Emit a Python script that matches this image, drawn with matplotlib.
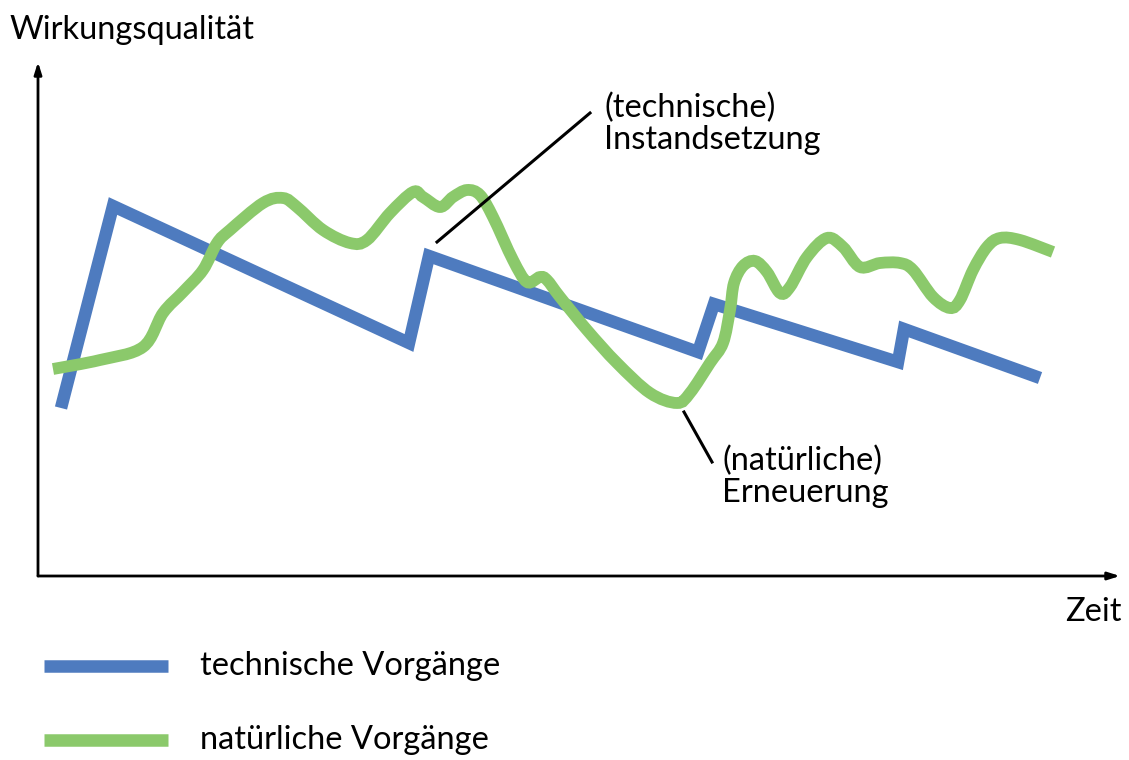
"""
Wirkungsqualität: technische vs. natürliche Vorgänge
"""
import matplotlib
matplotlib.use('Agg')
import matplotlib.pyplot as plt
import numpy as np
from matplotlib.path import Path
from matplotlib.patches import PathPatch

plt.rcParams['font.family'] = ['Lato', 'DejaVu Sans']

# technische Vorgänge (Zeit, Qualität)
tech_t = [23, 75, 371, 391, 660, 676, 860, 866, 1002]
tech_q = [168, 370, 233, 320, 224, 272, 214, 247, 198]

# natürliche Vorgänge (Zeit, Qualität)
nat_t = [15, 62, 105, 125, 145, 165, 179, 192, 225, 245, 259, 285, 312, 329,
         352, 375, 385, 402, 415, 429, 442, 455, 475, 489, 502, 509, 522, 549,
         579, 612, 639, 652, 672, 685, 692, 696, 705, 717, 729, 742, 752, 769,
         789, 805, 822, 842, 862, 875, 895, 912, 922, 935, 949, 962, 982, 1015]
nat_q = [207, 216, 229, 263, 284, 306, 333, 346, 373, 378, 369, 346, 333, 336,
         363, 384, 379, 369, 379, 386, 381, 359, 316, 294, 299, 296, 279, 246,
         213, 183, 173, 183, 213, 233, 266, 293, 310, 315, 304, 283, 289, 319,
         338, 329, 309, 313, 313, 306, 279, 268, 276, 306, 329, 338, 336, 324]

# Beschriftungslinien
instand_line = ([399, 552], [334, 463])
erneuer_line = ([646, 674], [164, 114])

BLUE = '#4e7bbf'
GREEN = '#8bc96b'


def smooth_path(x, y):
    """Catmull-Rom durch die Punkte als Bezier-Pfad"""
    p = np.column_stack([x, y]).astype(float)
    verts = [p[0]]
    codes = [Path.MOVETO]
    for i in range(len(p) - 1):
        p0 = p[i - 1] if i > 0 else p[i]
        p1, p2 = p[i], p[i + 1]
        p3 = p[i + 2] if i + 2 < len(p) else p[i + 1]
        verts += [p1 + (p2 - p0) / 6, p2 - (p3 - p1) / 6, p2]
        codes += [Path.CURVE4] * 3
    return Path(verts, codes)


fig = plt.figure(figsize=(11.29, 7.60), dpi=100)
ax = fig.add_axes([38 / 1129, 184 / 760, 1082 / 1129, 514 / 760])
ax.set_xlim(0, 1082)
ax.set_ylim(0, 514)
ax.axis('off')

# Achsen mit Pfeilen
arrow = dict(arrowstyle='-|>,head_length=0.7,head_width=0.22', color='black',
             lw=2, shrinkA=0, shrinkB=0)
ax.annotate('', xy=(0, 514), xytext=(0, 0), arrowprops=arrow, annotation_clip=False)
ax.annotate('', xy=(1082, 0), xytext=(0, 0), arrowprops=arrow, annotation_clip=False)

ax.plot(tech_t, tech_q, color=BLUE, lw=9, solid_joinstyle='miter',
        solid_capstyle='butt', zorder=2)
ax.add_patch(PathPatch(smooth_path(nat_t, nat_q), fill=False, edgecolor=GREEN,
                       lw=8.5, capstyle='butt', zorder=3))

ax.plot(*instand_line, color='black', lw=2.2, zorder=4)
ax.plot(*erneuer_line, color='black', lw=2.2, zorder=4, clip_on=False)

fs = 23.5
ax.text(566, 483, '(technische)\nInstandsetzung', fontsize=fs, va='top',
        ha='left', linespacing=1.08)
ax.text(684, 130, '(natürliche)\nErneuerung', fontsize=fs, va='top',
        ha='left', linespacing=1.08)

fig.text(10 / 1129, 1 - 30 / 760, 'Wirkungsqualität', fontsize=fs, va='center')
fig.text(1122 / 1129, 1 - 612 / 760, 'Zeit', fontsize=fs, va='center', ha='right')

# Legende
for yy, col, lab in [(666, BLUE, 'technische Vorgänge'),
                     (740, GREEN, 'natürliche Vorgänge')]:
    fy = 1 - yy / 760
    fig.add_artist(plt.Line2D([44 / 1129, 168 / 1129], [fy, fy], color=col,
                              lw=9, solid_capstyle='butt'))
    fig.text(200 / 1129, fy, lab, fontsize=fs, va='center')

plt.savefig('out.png', dpi=100)
